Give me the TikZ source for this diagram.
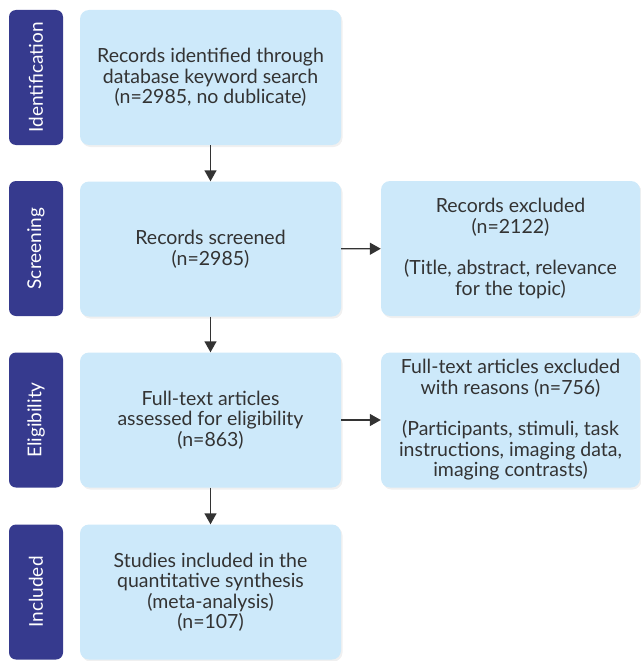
\documentclass[tikz,border=0pt]{standalone}
\usepackage{fontspec}
\setmainfont{Lato}
\usepackage{tikz}
\usetikzlibrary{arrows.meta,shadows}
\definecolor{phaseblue}{HTML}{363A8E}
\definecolor{boxblue}{HTML}{CDE9FA}
\definecolor{ink}{HTML}{333333}
\tikzstyle{phase}=[rectangle, rounded corners=7pt, fill=phaseblue, text=white, rotate=90, minimum width=135pt, minimum height=54pt, inner sep=0pt, font=\fontsize{19}{20}\selectfont]
\tikzstyle{stage}=[rectangle, rounded corners=9pt, fill=boxblue, text=ink, minimum width=261pt, minimum height=135pt, align=center, inner sep=0pt, font=\fontsize{19.5}{20.5}\selectfont, drop shadow={opacity=0.12, shadow xshift=1.5pt, shadow yshift=-2pt}]
\tikzstyle{excl}=[stage, minimum width=259pt]
\tikzstyle{edge}=[-{Triangle[width=12pt,length=11pt]}, line width=1.4pt, draw=ink]
\begin{document}
\begin{tikzpicture}[x=1pt,y=-1pt]
			\useasboundingbox (0,0) rectangle (640,661);
			%The phase labels
			\draw (36,77.5) node[phase] (p1) {Identification};
			\draw (36,248.5) node[phase] (p2) {Screening};
			\draw (36,420) node[phase] (p3) {Eligibility};
			\draw (36,592) node[phase] (p4) {Included};

			%The main column
			\draw (210.5,77.5) node[stage] (s1) {Records identified through\\database keyword search\\(n=2985, no dublicate)};
			\draw (210.5,249) node[stage] (s2) {Records screened\\(n=2985)};
			\draw (210.5,420) node[stage] (s3) {Full-text articles\\assessed for eligibility\\(n=863)};
			\draw (210.5,592) node[stage] (s4) {Studies included in the\\quantitative synthesis\\(meta-analysis)\\(n=107)};

			%The exclusions
			\draw (510.5,248.5) node[excl] (x2) {Records excluded\\(n=2122)\\[21pt](Title, abstract, relevance\\for the topic)};
			\draw (510.5,420) node[excl] (x3) {Full-text articles excluded\\with reasons (n=756)\\[21pt](Participants, stimuli, task\\instructions, imaging data,\\imaging contrasts)};

			%The arrows
			\draw[edge] (s1) -- (s2);
			\draw[edge] (s2) -- (s3);
			\draw[edge] (s3) -- (s4);
			\draw[edge] (s2) -- (x2);
			\draw[edge] (s3) -- (x3);
		\end{tikzpicture}
\end{document}
